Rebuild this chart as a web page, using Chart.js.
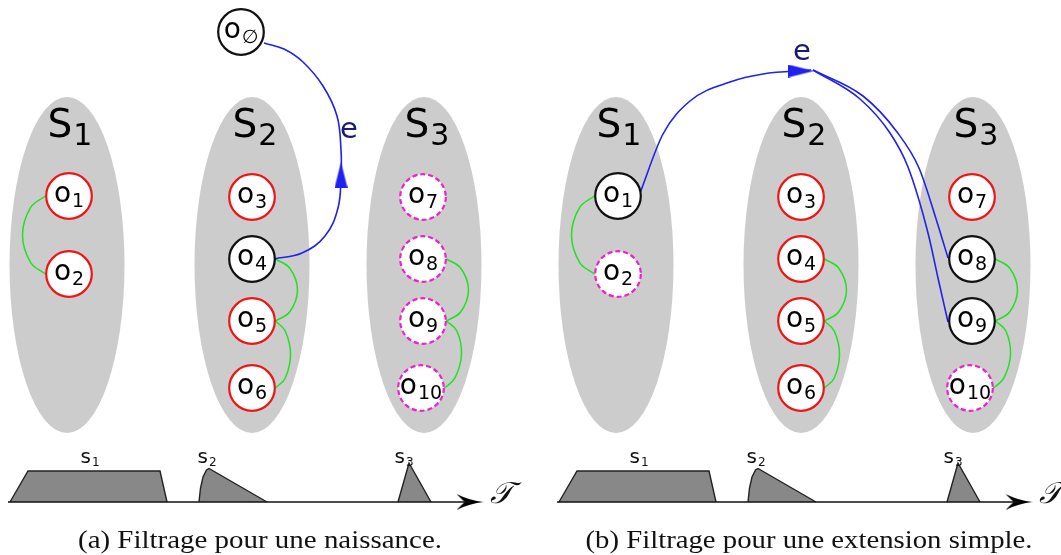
<!DOCTYPE html>
<html>
<head>
<meta charset="utf-8">
<script src="https://cdn.jsdelivr.net/npm/chart.js@4.4.0/dist/chart.umd.min.js"></script>
<style>
  body { margin: 0; background: #fff; }
  #wrap { position: relative; width: 1061px; height: 555px; }
  canvas { position: absolute; top: 0; }
</style>
</head>
<body>
<div id="wrap">
  <canvas id="panelA" width="549" height="555" style="left:0"></canvas>
  <canvas id="panelB" width="512" height="555" style="left:549px"></canvas>
</div>
<script>
// the three sets S1..S3 (grey ellipses), same layout in both panels
const setNames = ['1', '2', '3'];
const setCentres = [67, 252, 424];

// observations o1..o10 and o∅
const nodeNames = ['1', '2', '3', '4', '5', '6', '7', '8', '9', '10', '∅'];
const nodeX = [69, 69, 252, 252, 252, 252, 423, 423, 423, 421, 241];
const nodeY = [196, 274, 197, 259, 321, 388, 197, 259, 321, 388, 32];

// picked = black, kept = red, out = dashed magenta, null = not drawn
const statesA = ['kept', 'kept', 'kept', 'picked', 'kept', 'kept', 'out', 'out', 'out', 'out', 'picked'];
const statesB = ['picked', 'out', 'kept', 'kept', 'kept', 'kept', 'kept', 'picked', 'picked', 'out', null];

// green links between observations, and how far each one swings out
const links = [[0, 1], [3, 4], [4, 5], [7, 8], [8, 9]];
const linkSwing = [-23, 22, 15, 22, 16];

// blue edges "e", way points
const edgesA = [
  [[274, 259], [302, 253], [325, 236], [338, 208], [341, 175], [341, 150], [337, 116], [323, 86], [303, 62], [284, 49], [264, 43]]
];
const edgesB = [
  [[91, 193], [114, 134], [141, 101], [181, 82], [214, 74], [262, 70]],
  [[264, 70], [314, 96], [348, 132], [370, 168], [388, 222], [399, 258]],
  [[264, 70], [311, 99], [341, 133], [359, 167], [379, 233], [389, 278], [399, 322]]
];
const arrowA = {x: 341, y: 175, r: 0};
const arrowB = {x: 252, y: 71, r: 90};

// time line with the supports s1..s3
const timeBase = 502;
const timeAxis = [8, 470];
const supports = [
  [[10, 502], [28, 471], [160, 471], [167, 502]],
  [[199, 502], [200.5, 488], [203, 477], [206.5, 470], [209, 468.5], [267, 502]],
  [[398, 502], [409, 463], [431, 502]]
];
const supportNames = ['1', '2', '3'];
const supportLabelX = [90, 207, 404];

const colours = {picked: '#111111', kept: '#ee1515', out: '#ee22cc', link: '#22e022', edge: '#2020f0'};
const sans = '"DejaVu Sans", sans-serif';

function arrowImage(w, h) {
  const c = document.createElement('canvas');
  c.width = w; c.height = h;
  const g = c.getContext('2d');
  g.fillStyle = colours.edge;
  g.beginPath(); g.moveTo(w / 2, 0); g.lineTo(w, h); g.lineTo(0, h); g.closePath(); g.fill();
  return c;
}

function stealthImage(w, h) {
  const c = document.createElement('canvas');
  c.width = w; c.height = h;
  const g = c.getContext('2d');
  g.fillStyle = '#000';
  g.beginPath();
  g.moveTo(w, h / 2);
  g.quadraticCurveTo(w * 0.5, h * 0.42, 0, 0);
  g.lineTo(w * 0.3, h / 2);
  g.lineTo(0, h);
  g.quadraticCurveTo(w * 0.5, h * 0.58, w, h / 2);
  g.closePath(); g.fill();
  return c;
}

function drawSub(ctx, main, small, cx, base, big, little, drop, gap) {
  ctx.font = big + 'px ' + sans;
  const w1 = ctx.measureText(main).width;
  ctx.font = little + 'px ' + sans;
  const w2 = ctx.measureText(small).width;
  const x0 = cx - (w1 + gap + w2) / 2;
  ctx.textAlign = 'left';
  ctx.textBaseline = 'alphabetic';
  ctx.font = big + 'px ' + sans;
  ctx.fillText(main, x0, base);
  ctx.font = little + 'px ' + sans;
  ctx.fillText(small, x0 + w1 + gap, base + drop);
}

function linkPath(a, b, swing) {
  const side = Math.sign(swing);
  const xa = nodeX[a] + side * 23.5, xb = nodeX[b] + side * 23.5;
  const dy = nodeY[b] - nodeY[a];
  return [
    {x: xa, y: nodeY[a]},
    {x: xa + swing * 0.65, y: nodeY[a] + dy * 0.15},
    {x: (xa + xb) / 2 + swing, y: nodeY[a] + dy / 2},
    {x: xb + swing * 0.65, y: nodeY[b] - dy * 0.15},
    {x: xb, y: nodeY[b]}
  ];
}

const diagram = {
  id: 'diagram',
  beforeDatasetsDraw(chart) {
    const {ctx, scales: {x, y}} = chart;
    ctx.save();
    ctx.fillStyle = '#cccccc';
    setCentres.forEach(c => {
      const cx = x.getPixelForValue(c), cy = y.getPixelForValue(265);
      const rx = x.getPixelForValue(c + 57.5) - cx;
      const ry = y.getPixelForValue(433) - cy;
      ctx.beginPath();
      ctx.ellipse(cx, cy, rx, ry, 0, 0, Math.PI * 2);
      ctx.fill();
    });
    ctx.fillStyle = '#000';
    setCentres.forEach((c, i) => {
      drawSub(ctx, 'S', setNames[i], x.getPixelForValue(c + 3), y.getPixelForValue(137), 39, 30, 8, 1);
    });
    ctx.restore();
  },
  beforeDatasetDraw(chart, args) {
    const ds = chart.data.datasets[args.index];
    if (ds.dash) chart.ctx.setLineDash(ds.dash);
  },
  afterDatasetDraw(chart) {
    chart.ctx.setLineDash([]);
  },
  afterDatasetsDraw(chart, args, opts) {
    const {ctx, scales: {x, y}} = chart;
    ctx.save();
    ctx.fillStyle = '#000';
    chart.data.datasets.forEach((ds, i) => {
      if (!ds.isNodes) return;
      chart.getDatasetMeta(i).data.forEach((el, j) => {
        drawSub(ctx, 'o', ds.data[j].name, el.x, el.y + 6, 28, 19, 5, 1);
      });
    });

    // label of the edge
    ctx.fillStyle = '#1a1a75';
    ctx.font = '29px ' + sans;
    ctx.textAlign = 'center';
    ctx.fillText('e', x.getPixelForValue(opts.edgeLabel[0]), y.getPixelForValue(opts.edgeLabel[1]));

    // supports on the time line
    ctx.fillStyle = '#111';
    supportLabelX.forEach((sx, i) => {
      drawSub(ctx, 's', supportNames[i], x.getPixelForValue(sx), y.getPixelForValue(463), 20, 12, 3, 1);
    });
    ctx.font = 'italic 30px "DejaVu Serif", serif';
    ctx.textAlign = 'left';
    ctx.fillText('𝒯', x.getPixelForValue(490), y.getPixelForValue(503));

    // caption
    ctx.font = '26px "Liberation Serif", serif';
    const w = ctx.measureText(opts.caption).width;
    const target = x.getPixelForValue(opts.captionWidth) - x.getPixelForValue(0);
    ctx.translate(x.getPixelForValue(260), y.getPixelForValue(548));
    ctx.scale(target / w, 1);
    ctx.textAlign = 'center';
    ctx.fillText(opts.caption, 0, 0);
    ctx.restore();
  }
};

function buildPanel(id, states, edges, edgeMode, arrow, edgeLabel, caption, captionWidth) {
  const canvas = document.getElementById(id);
  const solid = [], solidColours = [], dashed = [];
  nodeNames.forEach((name, i) => {
    const st = states[i];
    if (!st) return;
    const pt = {x: nodeX[i], y: nodeY[i], name};
    if (st === 'out') dashed.push(pt);
    else { solid.push(pt); solidColours.push(colours[st]); }
  });

  const datasets = [
    {data: solid, isNodes: true, pointRadius: 22.8, pointBorderWidth: 2.2,
     pointBorderColor: solidColours, pointBackgroundColor: '#fff'},
    {data: dashed, isNodes: true, dash: [5, 3], pointRadius: 22.8, pointBorderWidth: 2.2,
     pointBorderColor: colours.out, pointBackgroundColor: '#fff'},
    {data: [{x: arrow.x, y: arrow.y}], pointStyle: arrowImage(13, 26), rotation: arrow.r, pointRadius: 6},
    ...edges.map(path => ({
      data: path.map(p => ({x: p[0], y: p[1]})), showLine: true, borderColor: colours.edge,
      borderWidth: 1.6, pointRadius: 0, tension: 0.4, cubicInterpolationMode: edgeMode
    })),
    ...links.map((l, i) => ({
      data: linkPath(l[0], l[1], linkSwing[i]), showLine: true, borderColor: colours.link,
      borderWidth: 1.5, pointRadius: 0, tension: 0.4
    })),
    {data: [{x: timeAxis[0], y: timeBase}, {x: timeAxis[1], y: timeBase}], showLine: true,
     borderColor: '#111', borderWidth: 1.6, pointRadius: 0},
    {data: [{x: timeAxis[1], y: timeBase}], pointStyle: stealthImage(27, 16), pointRadius: 6},
    ...supports.map(poly => ({
      data: poly.map(p => ({x: p[0], y: p[1]})), showLine: true, borderColor: '#222',
      borderWidth: 1.4, backgroundColor: '#888888', fill: {value: timeBase}, pointRadius: 0, tension: 0
    }))
  ];

  new Chart(canvas, {
    type: 'scatter',
    data: {datasets},
    options: {
      responsive: false,
      devicePixelRatio: 1,
      animation: false,
      events: [],
      layout: {padding: 0, autoPadding: false},
      scales: {
        x: {type: 'linear', min: 0, max: canvas.width, display: false},
        y: {type: 'linear', min: 0, max: 555, reverse: true, display: false}
      },
      plugins: {
        legend: {display: false},
        tooltip: {enabled: false},
        diagram: {edgeLabel, caption, captionWidth}
      }
    },
    plugins: [diagram]
  });
}

buildPanel('panelA', statesA, edgesA, 'default', arrowA, [349, 138], '(a) Filtrage pour une naissance.', 364);
buildPanel('panelB', statesB, edgesB, 'monotone', arrowB, [253, 60], '(b) Filtrage pour une extension simple.', 447);
</script>
</body>
</html>
